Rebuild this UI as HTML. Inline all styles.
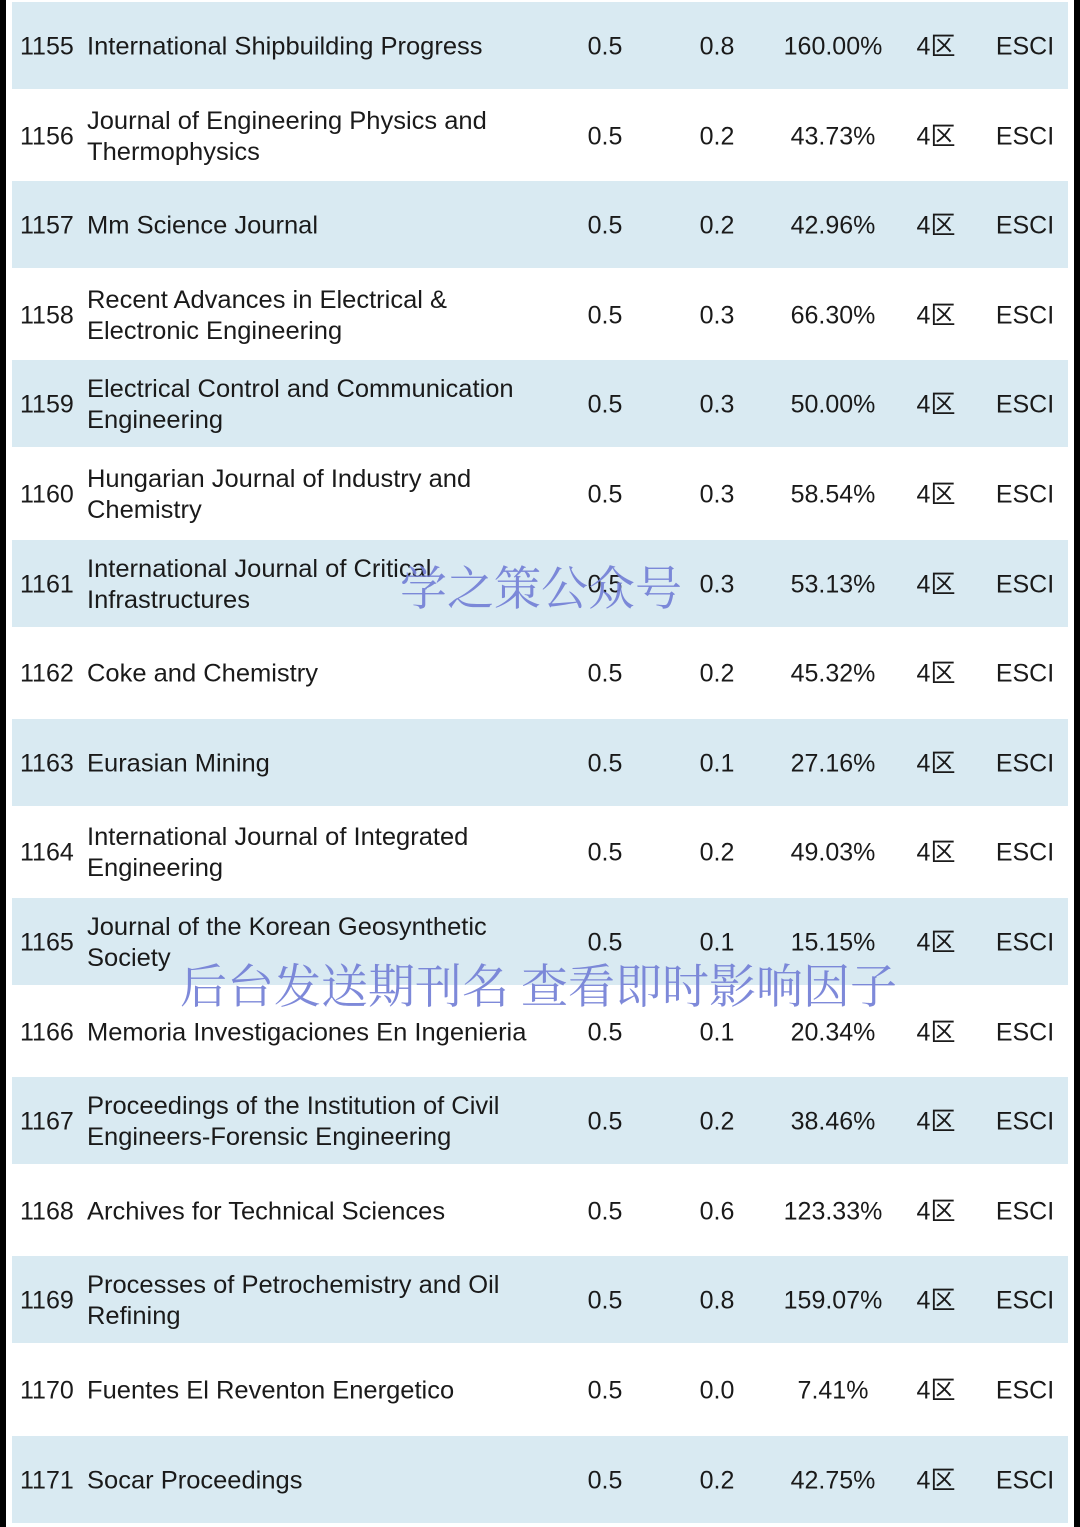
<!DOCTYPE html>
<html><head><meta charset="utf-8">
<style>
html,body{margin:0;padding:0;}
body{width:1080px;height:1527px;position:relative;background:#fff;overflow:hidden;
font-family:"Liberation Sans","Noto Sans CJK SC",sans-serif;color:#1a1a1a;}
.bar{position:absolute;top:0;width:6px;height:1527px;background:#000;}
.row{position:absolute;left:12px;width:1056px;height:87px;}
.blue{background:#d9eaf2;}
.c{position:absolute;font-size:25px;line-height:31px;white-space:nowrap;transform:translateY(-50%);}
.ctr{transform:translate(-50%,-50%);}
.wm{position:absolute;font-family:"Noto Serif CJK SC","WenQuanYi Zen Hei",serif;color:#7480d6;opacity:0.92;white-space:nowrap;}
</style></head>
<body>
<div class="bar" style="left:0"></div>
<div class="bar" style="left:1074px"></div>
<div id="tbl"></div>
<div class="wm" style="left:400px;top:552px;font-size:47px;">学之策公众号</div>
<div class="wm" style="left:180px;top:950px;font-size:47px;">后台发送期刊名 查看即时影响因子</div>
<script>
const ids=[1155,1156,1157,1158,1159,1160,1161,1162,1163,1164,1165,1166,1167,1168,1169,1170,1171];
const names=[["International Shipbuilding Progress"],["Journal of Engineering Physics and","Thermophysics"],["Mm Science Journal"],["Recent Advances in Electrical &","Electronic Engineering"],["Electrical Control and Communication","Engineering"],["Hungarian Journal of Industry and","Chemistry"],["International Journal of Critical","Infrastructures"],["Coke and Chemistry"],["Eurasian Mining"],["International Journal of Integrated","Engineering"],["Journal of the Korean Geosynthetic","Society"],["Memoria Investigaciones En Ingenieria"],["Proceedings of the Institution of Civil","Engineers-Forensic Engineering"],["Archives for Technical Sciences"],["Processes of Petrochemistry and Oil","Refining"],["Fuentes El Reventon Energetico"],["Socar Proceedings"]];
const ifA=["0.5","0.5","0.5","0.5","0.5","0.5","0.5","0.5","0.5","0.5","0.5","0.5","0.5","0.5","0.5","0.5","0.5"];
const ifB=["0.8","0.2","0.2","0.3","0.3","0.3","0.3","0.2","0.1","0.2","0.1","0.1","0.2","0.6","0.8","0.0","0.2"];
const pct=["160.00%","43.73%","42.96%","66.30%","50.00%","58.54%","53.13%","45.32%","27.16%","49.03%","15.15%","20.34%","38.46%","123.33%","159.07%","7.41%","42.75%"];
const zone=["4区","4区","4区","4区","4区","4区","4区","4区","4区","4区","4区","4区","4区","4区","4区","4区","4区"];
const idx=["ESCI","ESCI","ESCI","ESCI","ESCI","ESCI","ESCI","ESCI","ESCI","ESCI","ESCI","ESCI","ESCI","ESCI","ESCI","ESCI","ESCI"];
const tbl=document.getElementById('tbl');
const pitch=89.6;
function cell(row,txt,x,center,name){
  const d=document.createElement('div');
  d.className='c'+(center?' ctr':'');
  d.style.left=x+'px';d.style.top='45px';
  d.textContent=txt;
  
  
  row.appendChild(d);return d;
}
ids.forEach((id,i)=>{
  const r=document.createElement('div');
  r.className='row'+(i%2===0?' blue':'');
  r.style.top=(2+i*pitch)+'px';
  
  
  tbl.appendChild(r);
  cell(r,String(id),8,false,'rank-cell');
  const n=cell(r,'',75,false,'journal-name-cell');
  n.innerHTML=names[i].join('<br>');
  n.style.transform='translateY(-50%) scaleX(1.02)';n.style.transformOrigin='left center';
  if(names[i].length>1) n.style.top='45px';
  cell(r,ifA[i],593,true,'impact-factor-cell');
  cell(r,ifB[i],705,true,'realtime-if-cell');
  cell(r,pct[i],821,true,'change-percent-cell');
  cell(r,zone[i],924,true,'zone-cell');
  cell(r,idx[i],1013,true,'index-cell');
});
</script>
</body></html>
